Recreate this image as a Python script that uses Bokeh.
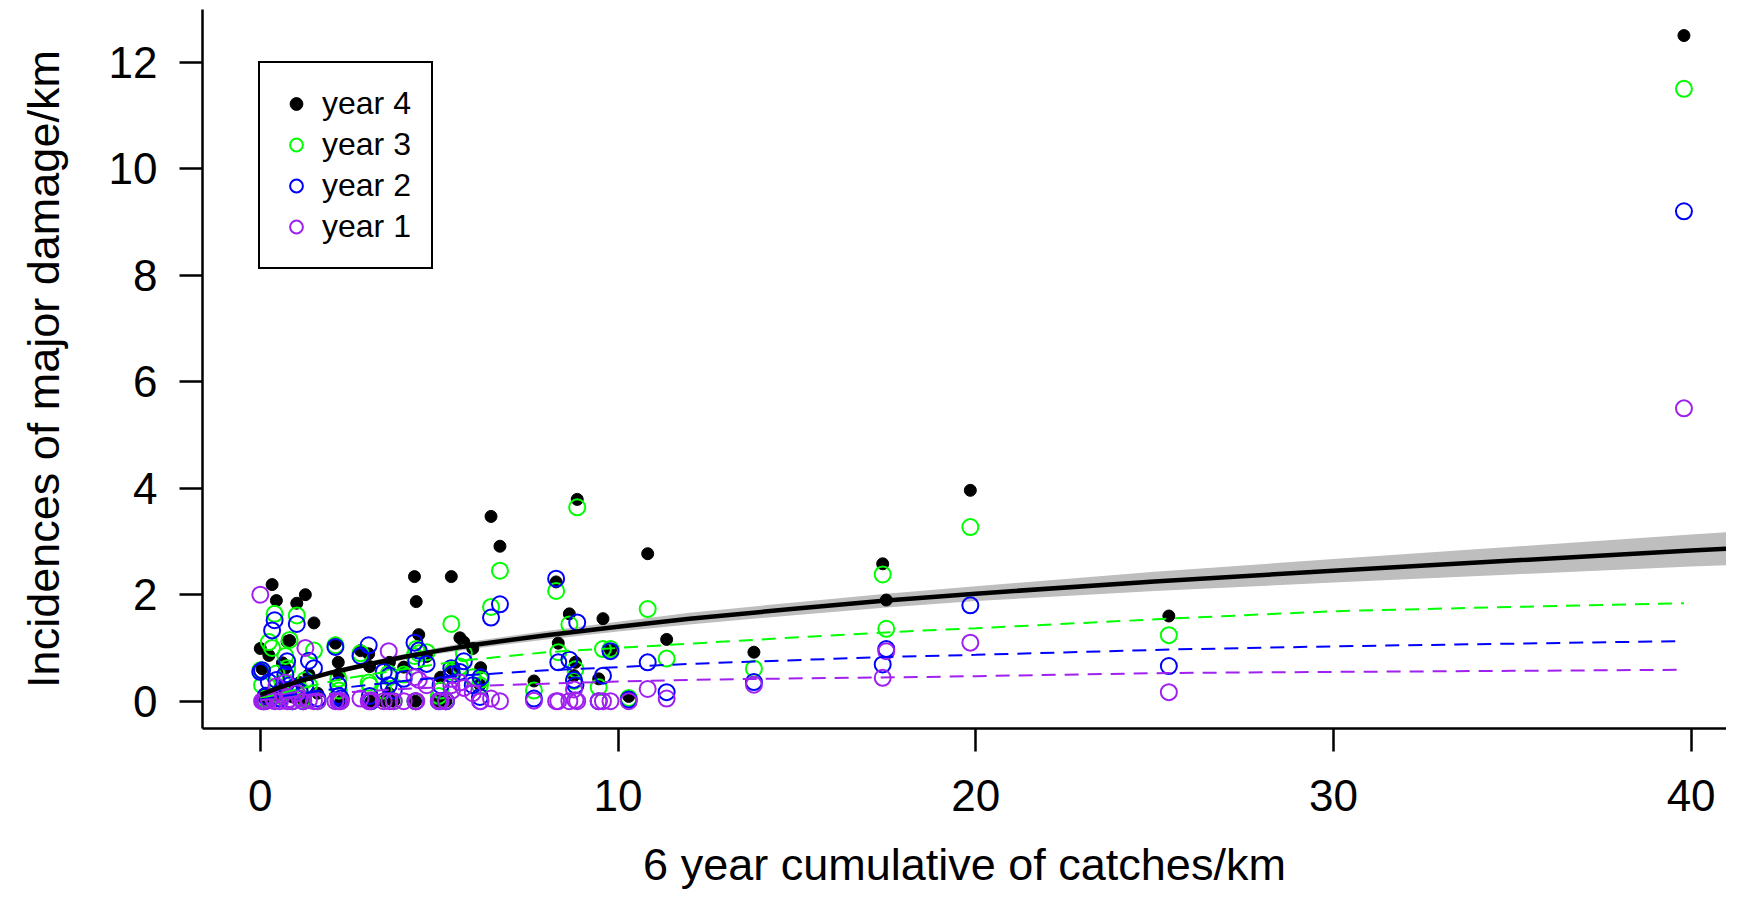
from bokeh.plotting import figure
from bokeh.models import Range1d, FixedTicker, Legend, LegendItem, ColumnDataSource
from bokeh.embed import file_html
from bokeh.resources import INLINE

# ---- data: one entry per site (6-year cumulative catches/km) ----
catches = [0.00, 0.05, 0.10, 0.15, 0.24, 0.33, 0.40, 0.45, 0.55, 0.62,
           0.70, 0.75, 0.82, 0.90, 1.02, 1.10, 1.20, 1.26, 1.36, 1.50,
           1.60, 2.10, 2.18, 2.20, 2.25, 2.80, 3.03, 3.06, 3.10, 3.45,
           3.59, 3.61, 3.73, 4.99, 4.01, 4.34, 4.31, 4.36, 4.43, 4.65,
           5.04, 5.19, 5.34, 5.36, 5.58, 5.69, 5.94, 6.14, 6.16, 6.45,
           6.70, 7.65, 8.27, 8.33, 8.64, 8.77, 8.81, 8.86, 9.46, 9.58,
           9.79, 10.30, 10.83, 11.36, 13.80, 17.40, 17.50, 19.85, 25.40, 39.80]
year4 = [0.99, 0.61, 0.00, 0.15, 0.86, 2.19, 0.05, 1.89, 0.25, 0.72,
         0.62, 1.12, 1.14, 0.08, 1.84, 0.35, 0.00, 2.00, 0.50, 1.47,
         0.15, 1.09, 0.73, 0.51, 0.00, 0.95, 0.89, 0.65, 0.00, 0.00,
         0.15, 0.73, 0.00, 0.00, 0.64, 0.00, 2.34, 1.87, 1.25, 0.84,
         0.45, 0.00, 2.34, 0.61, 1.19, 1.11, 0.99, 0.31, 0.63, 3.47,
         2.91, 0.38, 2.24, 1.09, 1.64, 0.48, 0.73, 3.79, 0.42, 1.55,
         0.96, 0.09, 2.77, 1.16, 0.92, 2.58, 1.90, 3.96, 1.60, 12.50]
year3 = [0.58, 0.30, 0.00, 0.05, 1.11, 1.00, 1.64, 0.52, 0.10, 0.35,
         0.85, 0.62, 1.15, 0.00, 1.61, 0.22, 0.05, 0.40, 0.30, 0.95,
         0.00, 1.05, 0.42, 0.20, 0.00, 0.90, 0.35, 0.30, 0.00, 0.20,
         0.52, 0.45, 0.00, 0.10, 0.50, 0.00, 0.85, 0.98, 0.90, 0.92,
         0.20, 0.00, 1.45, 0.55, 0.65, 0.90, 0.45, 0.30, 0.40, 1.77,
         2.45, 0.20, 2.07, 0.92, 1.44, 0.38, 0.60, 3.64, 0.26, 0.98,
         0.98, 0.06, 1.73, 0.80, 0.61, 2.38, 1.36, 3.27, 1.24, 11.50]
year2 = [0.55, 0.58, 0.00, 0.10, 0.36, 1.33, 1.52, 0.40, 0.05, 0.22,
         0.50, 0.75, 0.30, 0.00, 1.45, 0.18, 0.00, 0.30, 0.76, 0.62,
         0.05, 1.02, 0.30, 0.10, 0.05, 0.85, 1.05, 0.10, 0.00, 0.55,
         0.30, 0.48, 0.20, 0.00, 0.42, 0.00, 1.10, 0.75, 0.95, 0.70,
         0.30, 0.00, 0.62, 0.50, 0.55, 0.75, 0.30, 0.08, 0.45, 1.57,
         1.82, 0.05, 2.30, 0.73, 0.78, 0.40, 0.30, 1.48, 0.00, 0.48,
         0.94, 0.03, 0.73, 0.17, 0.36, 0.69, 0.98, 1.80, 0.66, 9.20]
year1 = [2.00, 0.00, 0.00, 0.00, 0.02, 0.08, 0.00, 0.28, 0.00, 0.12,
         0.35, 0.00, 0.04, 0.00, 0.15, 0.05, 0.00, 1.00, 0.02, 0.00,
         0.00, 0.00, 0.00, 0.00, 0.00, 0.05, 0.00, 0.00, 0.02, 0.00,
         0.94, 0.00, 0.00, 0.00, 0.00, 0.00, 0.45, 0.00, 0.40, 0.30,
         0.00, 0.00, 0.30, 0.20, 0.35, 0.25, 0.15, 0.00, 0.00, 0.05,
         0.00, 0.01, 0.00, 0.00, 0.00, 0.22, 0.02, 0.00, 0.00, 0.00,
         0.00, 0.00, 0.23, 0.05, 0.31, 0.44, 0.94, 1.10, 0.17, 5.50]

# fitted overall curve with its confidence band
fit_x = [0, 0.5, 1, 2, 3, 4, 5, 6, 8, 10, 12, 15, 17.5, 20, 25, 30, 35, 40, 41.4]
fit_y = [0.12, 0.25, 0.36, 0.54, 0.69, 0.83, 0.95, 1.06, 1.24, 1.40, 1.55, 1.74,
         1.89, 2.02, 2.25, 2.45, 2.64, 2.83, 2.88]
fit_lo = [0.09, 0.22, 0.33, 0.50, 0.64, 0.78, 0.89, 0.99, 1.16, 1.31, 1.44, 1.62,
          1.76, 1.88, 2.07, 2.23, 2.38, 2.53, 2.56]
fit_hi = [0.15, 0.28, 0.39, 0.58, 0.74, 0.88, 1.01, 1.13, 1.32, 1.49, 1.66, 1.86,
          2.02, 2.16, 2.43, 2.67, 2.90, 3.13, 3.19]

# per-year fitted curves (dashed)
yr_x = [0, 1, 2.3, 4, 5.6, 8, 10, 12, 14, 18, 20, 25.4, 30, 35, 39.8]
yr3_fit = [0.05, 0.22, 0.42, 0.60, 0.76, 0.92, 1.00, 1.08, 1.16, 1.31, 1.37, 1.55, 1.69, 1.77, 1.84]
yr2_fit = [0.03, 0.13, 0.25, 0.38, 0.48, 0.58, 0.64, 0.70, 0.75, 0.84, 0.87, 0.97, 1.03, 1.08, 1.13]
yr1_fit = [0.02, 0.08, 0.16, 0.23, 0.28, 0.33, 0.37, 0.40, 0.42, 0.45, 0.47, 0.53, 0.55, 0.57, 0.59]

x_ticks = [0, 10, 20, 30, 40]
y_ticks = [0, 2, 4, 6, 8, 10, 12]
x_title = "6 year cumulative of catches/km"
y_title = "Incidences of major damage/km"

FONT = "Liberation Sans"
GREEN = "#00FF00"
BLUE = "#0000FF"
PURPLE = "#A020F0"

src = ColumnDataSource(dict(x=catches, y4=year4, y3=year3, y2=year2, y1=year1))
fit = ColumnDataSource(dict(x=fit_x, y=fit_y, lo=fit_lo, hi=fit_hi))
yfit = ColumnDataSource(dict(x=yr_x, g=yr3_fit, b=yr2_fit, p=yr1_fit))

W, H = 1726, 893
FL, FT, FB = 202, 9, 728          # frame left / top / bottom in pixels
x0_px, x_unit = 259.8, 35.77      # pixel of x=0 and pixels per unit
y0_px, y_unit = 700.7, 53.25

x_range = Range1d((FL - x0_px) / x_unit, (W - x0_px) / x_unit)
y_range = Range1d((y0_px - FB) / y_unit, (y0_px - FT) / y_unit)

p = figure(width=W, height=H, output_backend="svg", toolbar_location=None,
           x_range=x_range, y_range=y_range,
           min_border_left=FL, min_border_top=FT, min_border_right=0,
           min_border_bottom=H - FB)
p.outline_line_color = None
p.xgrid.visible = False
p.ygrid.visible = False
p.background_fill_color = "white"
p.border_fill_color = "white"

# confidence band
p.varea(x="x", y1="lo", y2="hi", source=fit, fill_color="#BEBEBE")

# points
r4 = p.scatter("x", "y4", source=src, marker="circle", size=12,
               fill_color="black", line_color="black", line_width=1)
r3 = p.scatter("x", "y3", source=src, marker="circle", size=16,
               fill_color=None, line_color=GREEN, line_width=2)
r2 = p.scatter("x", "y2", source=src, marker="circle", size=16,
               fill_color=None, line_color=BLUE, line_width=2)
r1 = p.scatter("x", "y1", source=src, marker="circle", size=16,
               fill_color=None, line_color=PURPLE, line_width=2)

# fitted lines
p.line("x", "y", source=fit, line_color="black", line_width=4.5)
p.line("x", "g", source=yfit, line_color=GREEN, line_width=2, line_dash="14 9")
p.line("x", "b", source=yfit, line_color=BLUE, line_width=2, line_dash="14 9")
p.line("x", "p", source=yfit, line_color=PURPLE, line_width=2, line_dash="14 9")

# axes
for ax in (p.xaxis[0], p.yaxis[0]):
    ax.axis_line_width = 2.5
    ax.axis_line_color = "black"
    ax.major_tick_line_width = 2.5
    ax.major_tick_line_color = "black"
    ax.major_tick_in = 0
    ax.major_tick_out = 23
    ax.minor_tick_line_color = None
    ax.major_label_text_font = FONT
    ax.major_label_text_font_size = "44px"
    ax.major_label_text_color = "black"
    ax.axis_label_text_font = FONT
    ax.axis_label_text_font_size = "45px"
    ax.axis_label_text_font_style = "normal"
    ax.axis_label_text_color = "black"

p.xaxis.ticker = FixedTicker(ticks=x_ticks)
p.yaxis.ticker = FixedTicker(ticks=y_ticks)
p.xaxis.axis_label = x_title
p.yaxis.axis_label = y_title
p.xaxis.major_label_standoff = 28
p.xaxis.axis_label_standoff = 25
p.yaxis.major_label_standoff = 22
p.yaxis.major_label_orientation = "horizontal"
p.yaxis.axis_label_standoff = 37

legend = Legend(items=[LegendItem(label="year 4", renderers=[r4]),
                       LegendItem(label="year 3", renderers=[r3]),
                       LegendItem(label="year 2", renderers=[r2]),
                       LegendItem(label="year 1", renderers=[r1])],
                location=(56, 459), orientation="vertical",
                padding=20, spacing=0, margin=0,
                glyph_width=32, glyph_height=41, label_height=41,
                label_standoff=10,
                label_text_font=FONT, label_text_font_size="32px",
                label_text_color="black", label_text_baseline="middle",
                border_line_color="black", border_line_width=2,
                border_line_alpha=1.0,
                background_fill_color="white", background_fill_alpha=1)
p.add_layout(legend, "center")

open("out.html", "w").write(file_html(p, INLINE))
